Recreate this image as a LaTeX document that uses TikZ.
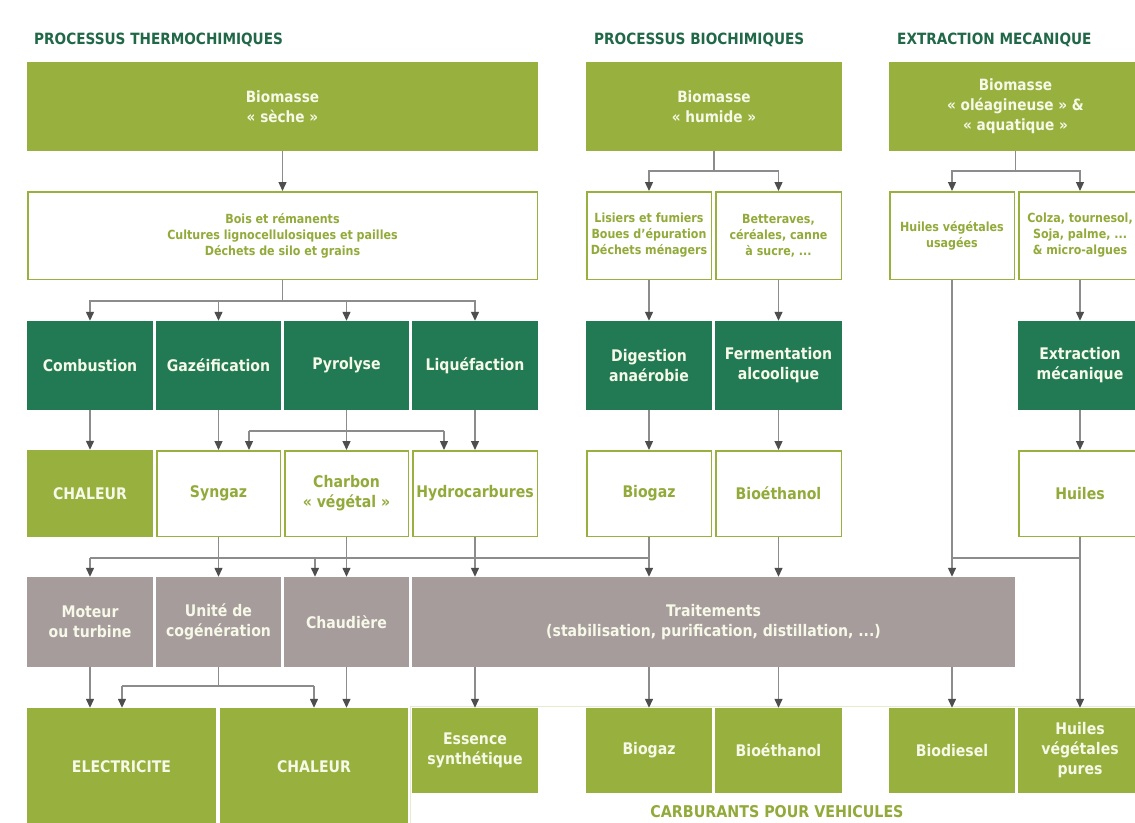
\documentclass[tikz,border=0pt]{standalone}
\usepackage{fontspec}
\setmainfont{DejaVu Sans}[FakeStretch=0.88]
\usetikzlibrary{arrows.meta}
\definecolor{olv}{RGB}{152,176,62}
\definecolor{olvt}{RGB}{146,170,58}
\definecolor{dkg}{RGB}{33,122,84}
\definecolor{tau}{RGB}{166,156,156}
\definecolor{hdr}{RGB}{32,104,72}
\definecolor{lin}{RGB}{140,140,140}
\definecolor{tipc}{RGB}{78,78,78}
\definecolor{txw}{RGB}{246,248,232}
\begin{document}
\begin{tikzpicture}[x=1pt,y=-1pt,
 bx/.style={rectangle, align=center, inner sep=1pt, draw=none},
 ol/.style={bx, fill=olv, text=txw},
 dg/.style={bx, fill=dkg, text=txw},
 tp/.style={bx, fill=tau, text=txw},
 wb/.style={bx, fill=white, draw=olv, line width=1.5pt, text=olvt},
 fa/.style={font=\bfseries\fontsize{15.5}{20}\selectfont},
 fb/.style={font=\bfseries\fontsize{12.6}{16}\selectfont},
 fc/.style={font=\bfseries\fontsize{16}{20}\selectfont},
 ln/.style={draw=lin, line width=1.3pt},
 ar/.style={ln, -{Triangle[width=8pt,length=9pt,color=tipc]}},
 hd/.style={font=\bfseries\fontsize{15.5}{18}\selectfont, text=hdr, anchor=west, inner sep=0pt},
]
\useasboundingbox (0,0) rectangle (1135,822);
\fill[white] (0,0) rectangle (1135,822);

% headers
\node[hd] (h1) at (34,40) {PROCESSUS THERMOCHIMIQUES};
\node[hd] (h2) at (594,40) {PROCESSUS BIOCHIMIQUES};
\node[hd] (h3) at (897,40) {EXTRACTION MECANIQUE};

% row 1
\node[ol,fa,minimum width=511pt,minimum height=89pt] (BS) at (282.5,106.5) {Biomasse\\« sèche »};
\node[ol,fa,minimum width=256pt,minimum height=89pt] (BH) at (714,106.5) {Biomasse\\« humide »};
\node[ol,fa,minimum width=253pt,minimum height=89pt] (BO) at (1015.5,106.5) {Biomasse\\« oléagineuse » \&\\« aquatique »};

% row 2
\node[wb,fb,minimum width=509.5pt,minimum height=87.5pt] (R2T) at (282.5,235.5) {Bois et rémanents\\Cultures lignocellulosiques et pailles\\Déchets de silo et grains};
\node[wb,fb,minimum width=124.5pt,minimum height=87.5pt] (Lis) at (649,235.5) {Lisiers et fumiers\\Boues d'épuration\\Déchets ménagers};
\node[wb,fb,minimum width=125.5pt,minimum height=87.5pt] (Bet) at (778.5,235.5) {Betteraves,\\céréales, canne\\à sucre, ...};
\node[wb,fb,minimum width=124.5pt,minimum height=87.5pt] (HVU) at (952,235.5) {Huiles végétales\\usagées};
\node[wb,fb,minimum width=122.5pt,minimum height=87.5pt] (Col) at (1080,235.5) {Colza, tournesol,\\Soja, palme, ...\\\& micro-algues};

% row 3
\node[dg,fc,minimum width=126pt,minimum height=89pt] (Com) at (90,365.5) {Combustion};
\node[dg,fc,minimum width=125pt,minimum height=89pt] (Gaz) at (218.5,365.5) {Gazéification};
\node[dg,fc,minimum width=125pt,minimum height=89pt] (Pyr) at (346.5,365.5) {Pyrolyse};
\node[dg,fc,minimum width=126pt,minimum height=89pt] (Liq) at (475,365.5) {Liquéfaction};
\node[dg,fc,minimum width=126pt,minimum height=89pt] (Dig) at (649,365.5) {Digestion\\anaérobie};
\node[dg,fc,minimum width=127pt,minimum height=89pt] (Fer) at (778.5,365.5) {Fermentation\\alcoolique};
\node[dg,fc,minimum width=124pt,minimum height=89pt] (Ext) at (1080,365.5) {Extraction\\mécanique};

% row 4
\node[ol,fc,minimum width=126pt,minimum height=87pt] (Cha) at (90,493.5) {CHALEUR};
\node[wb,fc,minimum width=123.5pt,minimum height=85.5pt] (Syn) at (218.5,493.5) {Syngaz};
\node[wb,fc,minimum width=123.5pt,minimum height=85.5pt] (Cbn) at (346.5,493.5) {Charbon\\« végétal »};
\node[wb,fc,minimum width=124.5pt,minimum height=85.5pt] (Hyd) at (475,493.5) {Hydrocarbures};
\node[wb,fc,minimum width=124.5pt,minimum height=85.5pt] (Bga) at (649,493.5) {Biogaz};
\node[wb,fc,minimum width=125.5pt,minimum height=85.5pt] (Bet4) at (778.5,493.5) {Bioéthanol};
\node[wb,fc,minimum width=122.5pt,minimum height=85.5pt] (Hui) at (1080,493.5) {Huiles};

% row 5
\node[tp,fc,minimum width=126pt,minimum height=90pt] (Mot) at (90,622) {Moteur\\ou turbine};
\node[tp,fc,minimum width=125pt,minimum height=90pt] (Uni) at (218.5,622) {Unité de\\cogénération};
\node[tp,fc,minimum width=125pt,minimum height=90pt] (Chd) at (346.5,622) {Chaudière};
\node[tp,fc,minimum width=603pt,minimum height=90pt] (Tra) at (713.5,622) {Traitements\\(stabilisation, purification, distillation, ...)};

% row 6
\draw[draw=olv!25, fill=white, line width=1pt] (410,706) rectangle (1145,830);
\node[ol,fc,minimum width=189pt,minimum height=118pt] (ELEC) at (121.5,767) {ELECTRICITE};
\node[ol,fc,minimum width=188pt,minimum height=118pt] (CHAL) at (314,767) {CHALEUR};
\node[ol,fc,minimum width=126pt,minimum height=85pt] (Ess) at (475,750.5) {Essence\\synthétique};
\node[ol,fc,minimum width=126pt,minimum height=85pt] (Bgz6) at (649,750.5) {Biogaz};
\node[ol,fc,minimum width=127pt,minimum height=85pt] (Bet6) at (778.5,750.5) {Bioéthanol};
\node[ol,fc,minimum width=126pt,minimum height=85pt] (Bds) at (952,750.5) {Biodiesel};
\node[ol,fc,minimum width=124pt,minimum height=85pt] (HVP) at (1080,750.5) {Huiles\\végétales\\pures};
\node[font=\bfseries\fontsize{16.2}{18}\selectfont, text=olvt, inner sep=0pt] (carb) at (777,812) {CARBURANTS POUR VEHICULES};

% connectors row1 -> row2
\draw[ar] (BS.south) -- (R2T.north);
\coordinate (j2) at (714,171);
\draw[ln] (BH.south) -- (j2);
\draw[ar] (j2) -| (Lis.north);
\draw[ar] (j2) -| (Bet.north);
\coordinate (j3) at (1015.5,171);
\draw[ln] (BO.south) -- (j3);
\draw[ar] (j3) -| (HVU.north);
\draw[ar] (j3) -| (Col.north);

% row2 -> row3
\coordinate (j1) at (282.5,301);
\draw[ln] (R2T.south) -- (j1);
\draw[ar] (j1) -| (Com.north);
\draw[ar] (j1) -| (Liq.north);
\draw[ar] (j1 -| Gaz.north) -- (Gaz.north);
\draw[ar] (j1 -| Pyr.north) -- (Pyr.north);
\draw[ar] (Lis.south) -- (Dig.north);
\draw[ar] (Bet.south) -- (Fer.north);
\draw[ar] (Col.south) -- (Ext.north);

% row3 -> row4
\draw[ar] (Com.south) -- (Cha.north);
\draw[ar] (Gaz.south) -- (Syn.north);
\draw[ar] (Pyr.south) -- (Cbn.north);
\draw[ar] (Liq.south) -- (Hyd.north);
\draw[ar] (Dig.south) -- (Bga.north);
\draw[ar] (Fer.south) -- (Bet4.north);
\draw[ar] (Ext.south) -- (Hui.north);
\coordinate (p1) at (249,431);
\coordinate (p2) at (444,431);
\draw[ln] (p1) -- (p2);
\draw[ar] (p1) -- (p1 |- Syn.north);
\draw[ar] (p2) -- (p2 |- Hyd.north);

% row4 -> row5
\coordinate (q1) at (90,558);
\coordinate (q2) at (649,558);
\coordinate (q3) at (315,558);
\draw[ln] (q1) -- (q2);
\draw[ar] (q1) -- (q1 |- Mot.north);
\draw[ar] (q3) -- (q3 |- Chd.north);
\draw[ar] (Syn.south) -- (Uni.north);
\draw[ar] (Cbn.south) -- (Chd.north);
\draw[ar] (Hyd.south) -- (Hyd.south |- Tra.north);
\draw[ar] (Bga.south) -- (Bga.south |- Tra.north);
\draw[ar] (Bet4.south) -- (Bet4.south |- Tra.north);
\draw[ar] (HVU.south) -- (HVU.south |- Tra.north);
\coordinate (q4) at (952,558);
\coordinate (q5) at (1080,558);
\draw[ln] (q4) -- (q5);
\draw[ar] (Hui.south) -- (HVP.north);

% row5 -> row6
\draw[ar] (Mot.south) -- (Mot.south |- ELEC.north);
\coordinate (u1) at (218.5,686);
\coordinate (u2) at (122,686);
\coordinate (u3) at (314,686);
\draw[ln] (Uni.south) -- (u1);
\draw[ln] (u2) -- (u3);
\draw[ar] (u2) -- (u2 |- ELEC.north);
\draw[ar] (u3) -- (u3 |- CHAL.north);
\draw[ar] (Chd.south) -- (Chd.south |- CHAL.north);
\draw[ar] (Tra.south -| Ess.north) -- (Ess.north);
\draw[ar] (Tra.south -| Bgz6.north) -- (Bgz6.north);
\draw[ar] (Tra.south -| Bet6.north) -- (Bet6.north);
\draw[ar] (Tra.south -| Bds.north) -- (Bds.north);
\end{tikzpicture}
\end{document}
